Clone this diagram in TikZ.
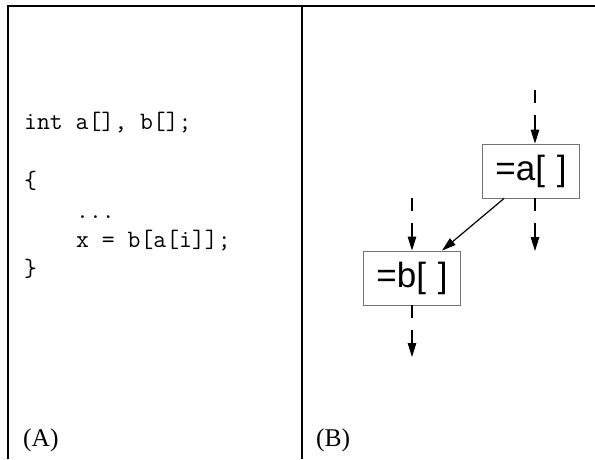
\documentclass[tikz,border=0pt]{standalone}
\usepackage{fontspec}
\setmainfont{Liberation Serif}
\newfontfamily\opfont{Liberation Sans}
\usetikzlibrary{arrows.meta, positioning}

\begin{document}
\begin{tikzpicture}[x=1pt, y=-1pt,
    frame/.style={line width=2pt},
    code/.style={anchor=base west, inner sep=0pt, font=\ttfamily\fontsize{25}{29}\selectfont},
    tag/.style={anchor=base west, inner sep=0pt, font=\fontsize{25.5}{30}\selectfont},
    op/.style={rectangle, draw=black!55, line width=0.8pt, minimum width=97pt, minimum height=54pt,
               inner sep=0pt, font=\opfont\fontsize{35}{38}\selectfont},
    flow/.style={line width=1.2pt, dash pattern=on 13pt off 12pt on 60pt,
                 -{Triangle[length=14pt, width=8.5pt]}},
    arrow/.style={line width=1.2pt, -{Triangle[length=14pt, width=8.5pt]}}]

\useasboundingbox (0,0) rectangle (595,459);

% Frame
\draw [frame] (8,459) |- (595,6);
\draw [frame] (302,6) -- (302,459);

% Panel (A): source
\node (l1) [code] at (24,129) {int a[], b[];};
\node (l2) [code] at (24,188) {\{};
\node (l3) [code] at (76,218) {...};
\node (l4) [code] at (76,247) {x = b[a[i]];};
\node (l5) [code] at (24,276) {\}};
\node (capA) [tag] at (23,446) {(A)};

% Panel (B): graph
\node (lda) [op] at (531,171) {=a[\,\,]};
\node (ldb) [op] at (412,278) {=b[\,\,]};
\node (capB) [tag] at (316,446) {(B)};

\coordinate (ain)  at (535,90);
\coordinate (aout) at (535,251);
\coordinate (bin)  at (412,198);
\coordinate (bout) at (412,357);

% Arrows
\draw [flow] (ain) -- (ain |- lda.north);
\draw [flow] (aout |- lda.south) -- (aout);
\draw [flow] (bin) -- (ldb.north);
\draw [flow] (ldb.south) -- (bout);
\draw [arrow] ([xshift=22pt]lda.south west) -- ([xshift=30pt]ldb.north);
\end{tikzpicture}
\end{document}
